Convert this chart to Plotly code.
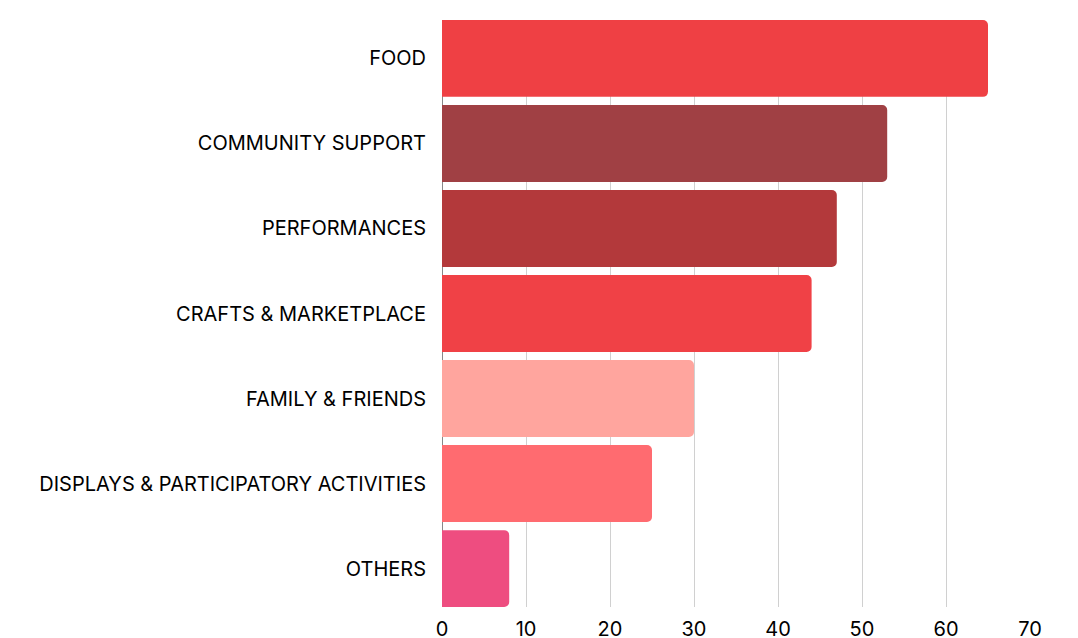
import plotly.graph_objects as go

categories = ["FOOD", "COMMUNITY SUPPORT", "PERFORMANCES", "CRAFTS & MARKETPLACE",
              "FAMILY & FRIENDS", "DISPLAYS & PARTICIPATORY ACTIVITIES", "OTHERS"]
values = [65, 53, 47, 44, 30, 25, 8]
colors = ["#EF4044", "#A04044", "#B3393B", "#F04146", "#FFA59E", "#FF6B70", "#EE4D80"]

gap = 0.096
n = len(categories)

fig = go.Figure(go.Bar(
    y=categories, x=values, orientation="h",
    marker=dict(color=colors, cornerradius=5, line=dict(width=0)),
    hoverinfo="x+y",
))

fig.update_layout(
    width=1078, height=638,
    margin=dict(l=434, r=56, t=12, b=39),
    paper_bgcolor="white", plot_bgcolor="white",
    bargap=gap,
    showlegend=False,
    font=dict(family="Inter, Roboto, sans-serif", size=20, color="#000000"),
    xaxis=dict(range=[0, 70], dtick=10, showgrid=True, gridcolor="#D0D0D0", gridwidth=1,
               zeroline=True, zerolinecolor="#888888", zerolinewidth=1,
               ticks="outside", ticklen=4, tickcolor="rgba(0,0,0,0)",
               tickfont=dict(size=20), fixedrange=True, automargin=False),
    yaxis=dict(range=[n - 0.5 - gap / 2, -0.5 + gap / 2],
               categoryorder="array", categoryarray=categories,
               ticks="outside", ticklen=11, tickcolor="rgba(0,0,0,0)",
               tickfont=dict(size=20), showgrid=False, fixedrange=True, automargin=False),
)

fig.write_html("out.html")
